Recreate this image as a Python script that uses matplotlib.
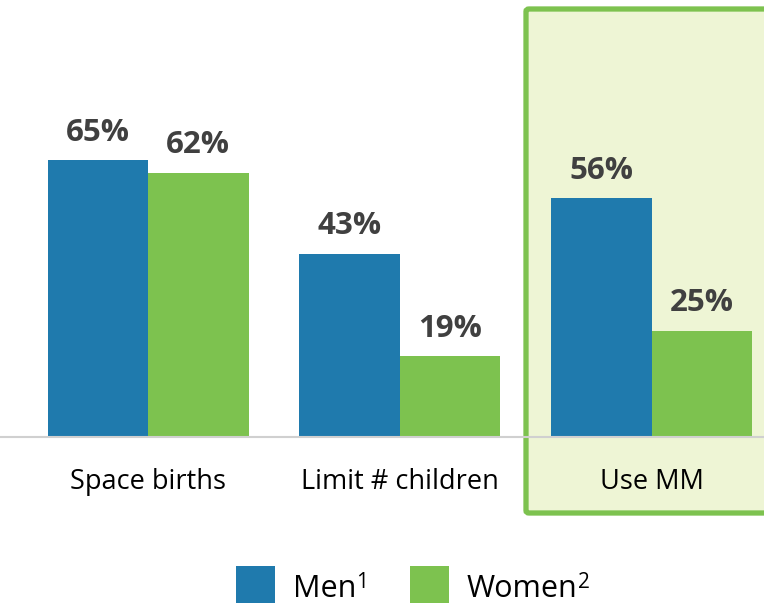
import numpy as np
import matplotlib.pyplot as plt
from matplotlib.patches import Rectangle, FancyBboxPatch

categories = ["Space births", "Limit # children", "Use MM"]
men = [65, 43, 56]
women = [62, 19, 25]
series_names = ["Men", "Women"]
series_notes = ["1", "2"]

blue = "#1f7aad"
green = "#7dc24f"
W, H = 764, 603

plt.rcParams["font.family"] = ["Open Sans", "DejaVu Sans"]

fig = plt.figure(figsize=(W / 100, H / 100), dpi=100)


# pixel helpers for figure-level decorations
def fx(px):
    return px / W


def fy(py):
    return 1 - py / H


# highlighted box behind the last group
box = FancyBboxPatch((fx(526), fy(513)), fx(260), fy(9) - fy(513),
                     boxstyle="round,pad=0,rounding_size=0.004",
                     transform=fig.transFigure, facecolor="#eef5d5",
                     edgecolor=green, linewidth=3.8, zorder=-1)
fig.add_artist(box)

bar_px = 100.5
ax = fig.add_axes([0, fy(437), 1, 437 / H])
ax.patch.set_visible(False)
x = np.arange(len(categories)) * 2.507
ax.bar(x - 0.5, men, width=1, color=blue, edgecolor="none", zorder=2)
ax.bar(x + 0.5, women, width=1, color=green, edgecolor="none", zorder=2)
left = -148 / bar_px
ax.set_xlim(left, left + W / bar_px)
ax.set_ylim(0, 437 / 4.26)

for xi, m, w in zip(x, men, women):
    ax.annotate(f"{m}%", (xi - 0.5, m), xytext=(0, 9), textcoords="offset points",
                ha="center", va="bottom", fontsize=22.5, fontweight="bold", color="#404040")
    ax.annotate(f"{w}%", (xi + 0.5, w), xytext=(0, 9), textcoords="offset points",
                ha="center", va="bottom", fontsize=22.5, fontweight="bold", color="#404040")

for side in ["top", "right", "left"]:
    ax.spines[side].set_visible(False)
ax.spines["bottom"].set_color("#d0d0d0")
ax.spines["bottom"].set_linewidth(1.5)
ax.set_yticks([])
ax.set_xticks(x)
ax.set_xticklabels(categories, fontsize=19.5, color="black")
ax.tick_params(axis="x", length=0, pad=22)

# legend
for sq_x, txt_x, color, name, note in zip([236, 410], [293, 467], [blue, green],
                                           series_names, series_notes):
    fig.add_artist(Rectangle((fx(sq_x), fy(603)), fx(39), fy(566) - fy(603),
                             transform=fig.transFigure, facecolor=color,
                             edgecolor="none"))
    t = fig.text(fx(txt_x), fy(597), name, fontsize=22, color="black",
                 ha="left", va="baseline")
    fig.canvas.draw()
    bb = t.get_window_extent()
    fig.text(bb.x1 / W, fy(588), note, fontsize=15, color="black",
             ha="left", va="baseline")

fig.savefig("out.png", dpi=100)
